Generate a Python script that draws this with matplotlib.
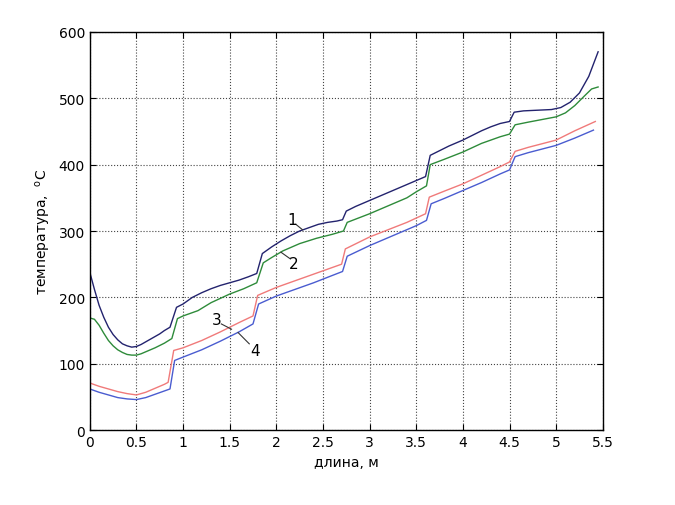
import matplotlib
matplotlib.use("Agg")
import matplotlib.pyplot as plt
import numpy as np

# data (length, m -> temperature, C)
x1 = [0.00, 0.05, 0.10, 0.15, 0.20, 0.25, 0.30, 0.35, 0.40, 0.45, 0.50, 0.55, 0.60,
      0.65, 0.70, 0.75, 0.80, 0.86, 0.93, 1.00, 1.10, 1.20, 1.30, 1.40, 1.50, 1.60,
      1.70, 1.79, 1.85, 1.95, 2.05, 2.15, 2.25, 2.35, 2.45, 2.55, 2.65, 2.71, 2.75,
      2.85, 3.00, 3.10, 3.20, 3.30, 3.40, 3.50, 3.60, 3.65, 3.75, 3.85, 4.00, 4.10,
      4.20, 4.30, 4.40, 4.50, 4.55, 4.65, 4.80, 4.95, 5.05, 5.15, 5.25, 5.35, 5.45]
t1 = [238, 212, 188, 170, 155, 144, 136, 130, 127, 125, 126, 129, 133,
      137, 141, 145, 150, 155, 185, 190, 200, 207, 213, 218, 222, 226,
      231, 236, 266, 276, 285, 293, 300, 305, 310, 313, 315, 317, 330,
      337, 346, 352, 358, 364, 370, 376, 382, 414, 421, 428, 437, 444,
      451, 457, 462, 465, 479, 481, 482, 483, 486, 494, 508, 533, 570]

x2 = [0.00, 0.05, 0.10, 0.15, 0.20, 0.25, 0.30, 0.35, 0.40, 0.45, 0.50, 0.55, 0.60,
      0.70, 0.80, 0.88, 0.94, 1.00, 1.16, 1.30, 1.50, 1.65, 1.79, 1.86, 1.95, 2.07,
      2.25, 2.43, 2.60, 2.72, 2.76, 3.00, 3.20, 3.40, 3.50, 3.61, 3.65, 3.80, 4.00,
      4.20, 4.40, 4.50, 4.56, 4.70, 5.00, 5.10, 5.20, 5.30, 5.38, 5.45]
t2 = [169, 167, 158, 146, 135, 127, 121, 117, 114, 113, 113, 115, 118,
      124, 131, 138, 168, 172, 180, 192, 205, 213, 222, 252, 260, 270,
      281, 289, 295, 300, 313, 326, 338, 350, 359, 368, 400, 408, 419,
      432, 442, 446, 460, 464, 472, 478, 489, 503, 514, 517]

x3 = [0.00, 0.10, 0.20, 0.30, 0.40, 0.50, 0.60, 0.70, 0.80, 0.84, 0.90, 1.00, 1.20,
      1.40, 1.60, 1.75, 1.80, 2.00, 2.20, 2.40, 2.60, 2.70, 2.74, 3.00, 3.20, 3.40,
      3.60, 3.64, 3.80, 4.00, 4.20, 4.40, 4.50, 4.56, 4.70, 5.00, 5.20, 5.42]
t3 = [71, 66, 62, 58, 55, 53, 57, 63, 69, 72, 120, 124, 135,
      148, 162, 172, 203, 215, 225, 235, 245, 250, 273, 291, 302, 313,
      326, 351, 360, 371, 384, 397, 404, 420, 426, 437, 451, 465]

x4 = [0.00, 0.10, 0.20, 0.30, 0.40, 0.50, 0.60, 0.70, 0.80, 0.86, 0.91, 1.00, 1.20,
      1.40, 1.60, 1.75, 1.81, 2.00, 2.20, 2.40, 2.60, 2.71, 2.76, 3.00, 3.20, 3.40,
      3.50, 3.61, 3.66, 3.80, 4.00, 4.20, 4.40, 4.50, 4.56, 4.70, 5.00, 5.20, 5.40]
t4 = [62, 57, 53, 49, 47, 46, 49, 54, 59, 62, 105, 110, 121,
      134, 148, 160, 190, 202, 212, 222, 233, 239, 262, 278, 290, 302,
      308, 316, 341, 349, 361, 373, 386, 392, 412, 418, 429, 440, 452]

# curve labels: text, label position, leader start, leader end
labels = ["1", "2", "3", "4"]
label_pos = [(2.17, 317), (2.19, 251), (1.36, 167), (1.77, 120)]
leader_from = [(2.21, 310), (2.15, 258), (1.41, 160), (1.71, 130)]
leader_to = [(2.28, 302), (2.05, 268), (1.52, 152), (1.59, 147)]

colors = ["#23236e", "#2e8b3a", "#f07a7a", "#4a5cd0"]

fig = plt.figure(figsize=(6.75, 5.06), dpi=100)
ax = fig.add_axes([0.133, 0.148, 0.760, 0.787])

for xs, ts, c in zip([x1, x2, x3, x4], [t1, t2, t3, t4], colors):
    ax.plot(xs, ts, color=c, lw=1.0)

for lab, p, a, b in zip(labels, label_pos, leader_from, leader_to):
    ax.plot([a[0], b[0]], [a[1], b[1]], color="#333333", lw=0.8)
    ax.text(p[0], p[1], lab, fontsize=11, ha="center", va="center")

ax.set_xlim(0, 5.5)
ax.set_ylim(0, 600)
ax.set_xticks(np.arange(0, 5.51, 0.5))
ax.set_xticklabels(["0", "0.5", "1", "1.5", "2", "2.5", "3", "3.5", "4", "4.5", "5", "5.5"])
ax.set_yticks(np.arange(0, 601, 100))
ax.tick_params(direction="in", length=4, top=True, right=True, labelsize=10, width=0.8)
ax.grid(True, linestyle=":", color="#444444", lw=0.8)
for s in ax.spines.values():
    s.set_linewidth(1.0)

ax.set_xlabel("длина, м", fontsize=10)
ax.set_ylabel("температура,  $^{\\rm o}$C", fontsize=10)

fig.savefig("out.png", dpi=100)
